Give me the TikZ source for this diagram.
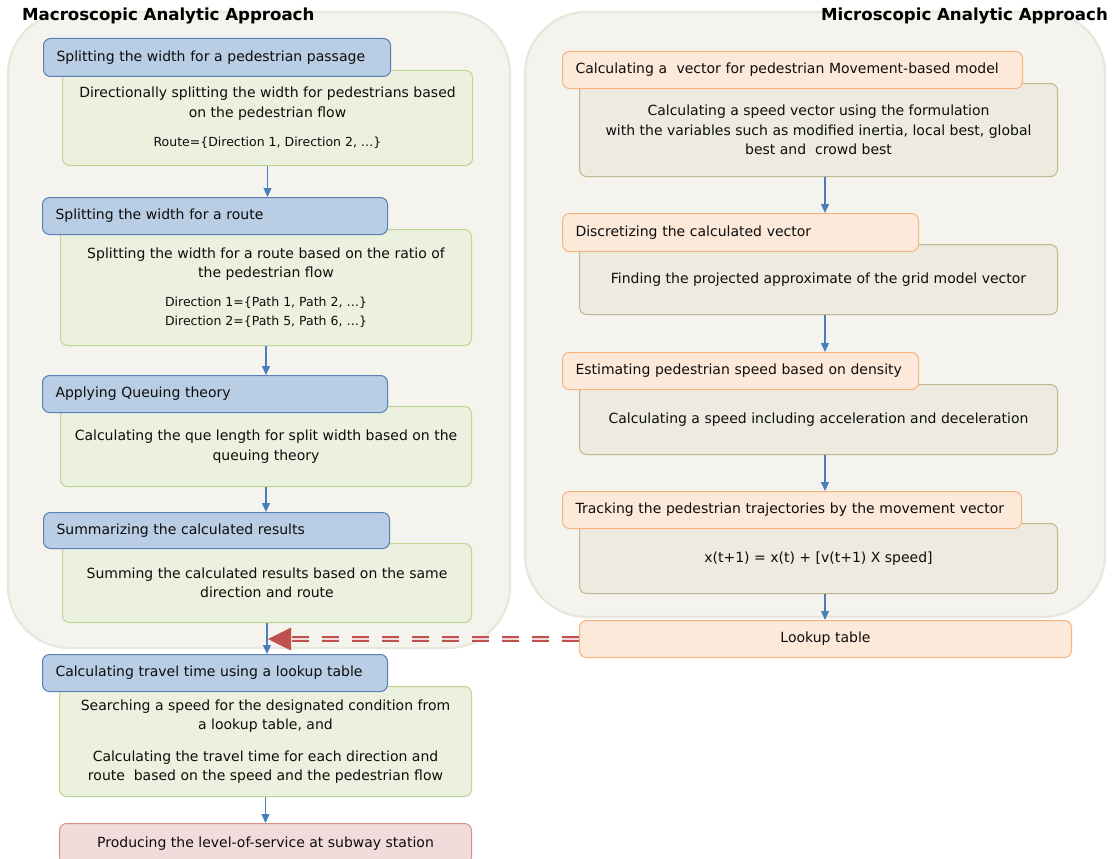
\documentclass[tikz,border=0pt]{standalone}
\usepackage{fontspec}
\setmainfont{DejaVu Sans}
\usetikzlibrary{arrows.meta}
\definecolor{panelfill}{HTML}{F4F3EE}
\definecolor{paneldraw}{HTML}{E8E7DB}
\definecolor{bluefill}{HTML}{B9CDE5}
\definecolor{bluedraw}{HTML}{5A7FB4}
\definecolor{greenfill}{HTML}{EBF1DE}
\definecolor{greendraw}{HTML}{BDD495}
\definecolor{orfill}{HTML}{FDE9D9}
\definecolor{ordraw}{HTML}{F8B47C}
\definecolor{olfill}{HTML}{EDEBE0}
\definecolor{oldraw}{HTML}{BFB88F}
\definecolor{pinkfill}{HTML}{F2DCDB}
\definecolor{pinkdraw}{HTML}{D48E8C}
\definecolor{arrowblue}{HTML}{4A7EBB}
\definecolor{redc}{HTML}{C0504D}
\definecolor{txt}{HTML}{0D0D0D}
\tikzset{
  panel/.style={fill=panelfill, draw=paneldraw, line width=2.2pt, rounded corners=62pt},
  basebox/.style={anchor=north west, rounded corners=7pt, line width=1pt, text=txt, inner ysep=0pt},
  hdr/.style={basebox, fill=bluefill, draw=bluedraw, align=left, inner xsep=13pt, font=\fontsize{14}{17}\selectfont},
  ohdr/.style={basebox, fill=orfill, draw=ordraw, align=left, inner xsep=13pt, font=\fontsize{14}{17}\selectfont},
  gbody/.style={basebox, fill=greenfill, draw=greendraw, align=center, font=\fontsize{14}{19.5}\selectfont},
  obody/.style={basebox, fill=olfill, draw=oldraw, align=center, font=\fontsize{14}{19.5}\selectfont},
  pbox/.style={basebox, fill=pinkfill, draw=pinkdraw, align=center, font=\fontsize{14}{17}\selectfont},
  arr/.style={draw=arrowblue, line width=1.2pt, -{Triangle[width=8pt,length=9pt]}},
  title/.style={font=\fontsize{16.6}{20}\selectfont\bfseries, inner sep=0pt, text=black}
}
\newcommand{\smtxt}{\fontsize{12.5}{18}\selectfont}
\begin{document}
\begin{tikzpicture}[x=1pt,y=-1pt]
\useasboundingbox (0,0) rectangle (1119,859);
\fill[white] (0,0) rectangle (1119,859);
% panels
\draw[panel] (8,12) rectangle (510,648);
\draw[panel] (525,12) rectangle (1105,617);
% titles
\node[title, anchor=base west] (t1) at (22,21) {Macroscopic Analytic Approach};
\node[title, anchor=base east] (t2) at (1108,21) {Microscopic Analytic Approach};
% left column
\node[gbody, minimum width=410pt, minimum height=95pt] (g1) at (62,70)
  {Directionally splitting the width for pedestrians based\\on the pedestrian flow\\[10pt]{\smtxt Route=\{Direction 1, Direction 2, …\}}};
\node[hdr, minimum height=38pt, text width=321pt] (h1) at (43,38) {Splitting the width for a pedestrian passage};

\node[gbody, minimum width=411pt, minimum height=116pt] (g2) at (60,229)
  {Splitting the width for a route based on the ratio of\\the pedestrian flow\\[9pt]{\smtxt Direction 1=\{Path 1, Path 2, …\}}\\{\smtxt Direction 2=\{Path 5, Path 6, …\}}};
\node[hdr, minimum height=37pt, text width=319pt] (h2) at (42,197) {Splitting the width for a route};

\node[gbody, minimum width=411pt, minimum height=80pt] (g3) at (60,406)
  {Calculating the que length for split width based on the\\queuing theory};
\node[hdr, minimum height=37pt, text width=319pt] (h3) at (42,375) {Applying Queuing theory};

\node[gbody, minimum width=409pt, minimum height=79pt] (g4) at (62,543)
  {Summing the calculated results based on the same\\direction and route};
\node[hdr, minimum height=36pt, text width=320pt] (h4) at (43,512) {Summarizing the calculated results};

\node[gbody, minimum width=412pt, minimum height=110pt] (g5) at (59,686)
  {Searching a speed for the designated condition from\\a lookup table, and\\[12pt]Calculating the travel time for each direction and\\route\ \ based on the speed and the pedestrian flow};
\node[hdr, minimum height=37pt, text width=319pt] (h5) at (42,654) {Calculating travel time using a lookup table};

\node[pbox, minimum width=412pt, minimum height=40pt] (p1) at (59,823) {Producing the level-of-service at subway station};

% right column
\node[obody, minimum width=478pt, minimum height=93pt] (r1) at (579,83)
  {Calculating a speed vector using the formulation\\with the variables such as modified inertia, local best, global\\best and\ \ crowd best};
\node[ohdr, minimum height=37pt, text width=434pt] (o1) at (562,51) {Calculating a\ \ vector for pedestrian Movement-based model};

\node[obody, minimum width=478pt, minimum height=70pt] (r2) at (579,244)
  {Finding the projected approximate of the grid model vector};
\node[ohdr, minimum height=38pt, text width=330pt] (o2) at (562,213) {Discretizing the calculated vector};

\node[obody, minimum width=478pt, minimum height=70pt] (r3) at (579,384)
  {Calculating a speed including acceleration and deceleration};
\node[ohdr, minimum height=37pt, text width=330pt] (o3) at (562,352) {Estimating pedestrian speed based on density};

\node[obody, minimum width=478pt, minimum height=70pt] (r4) at (579,523)
  {x(t+1) = x(t) + [v(t+1) X speed]};
\node[ohdr, minimum height=37pt, text width=433pt] (o4) at (562,491) {Tracking the pedestrian trajectories by the movement vector};

\node[basebox, fill=orfill, draw=ordraw, align=center, font=\fontsize{14}{17}\selectfont, minimum width=492pt, minimum height=37pt] (lk) at (579,620) {Lookup table};

% left arrows
\draw[arr] (g1.south) -- (g1.south |- h2.north);
\draw[arr] (g2.south) -- (g2.south |- h3.north);
\draw[arr] (g3.south) -- (g3.south |- h4.north);
\draw[arr] (g4.south) -- (g4.south |- h5.north);
\draw[arr] (g5.south) -- (g5.south |- p1.north);
% right arrows
\coordinate (rx) at (825,0);
\draw[arr] (rx |- r1.south) -- (rx |- o2.north);
\draw[arr] (rx |- r2.south) -- (rx |- o3.north);
\draw[arr] (rx |- r3.south) -- (rx |- o4.north);
\draw[arr] (rx |- r4.south) -- (rx |- lk.north);
% red dashed arrow
\coordinate (tip) at ([xshift=1pt]g4.south |- lk.west);
\draw[draw=redc, line width=2pt, double=redc!22, double distance=2.5pt, dash pattern=on 17pt off 13pt]
  (lk.west) -- ([xshift=20pt]tip);
\fill[redc] (tip) -- ++(23,-11.5) -- ++(0,23) -- cycle;
\end{tikzpicture}
\end{document}
